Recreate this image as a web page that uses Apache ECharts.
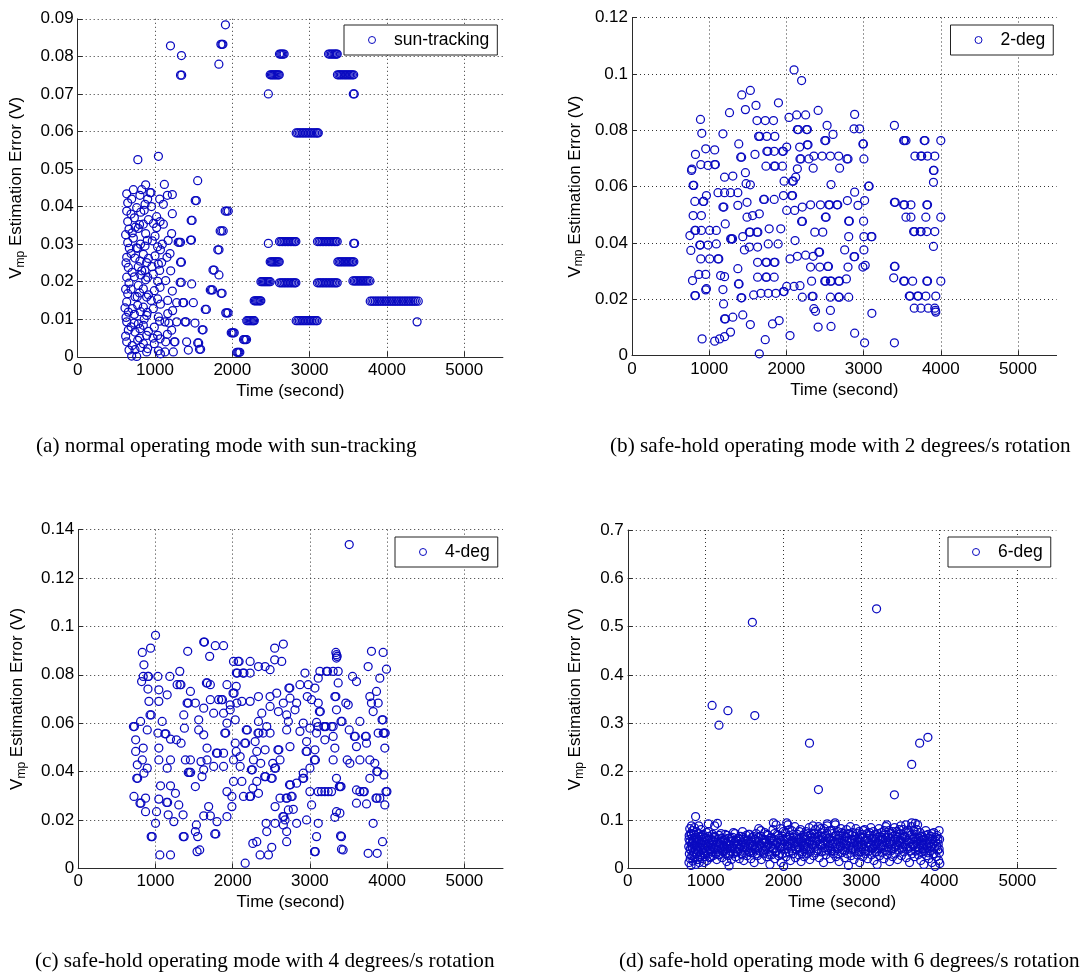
<!DOCTYPE html>
<html>
<head>
<meta charset="utf-8">
<script src="https://cdn.jsdelivr.net/npm/echarts@6/dist/echarts.min.js"></script>
<style>
  html, body { margin: 0; padding: 0; background: #ffffff; }
  #chart { width: 1082px; height: 972px; }
</style>
</head>
<body>
<div id="chart"></div>
<script>
// ---- axis ticks and labels ----
const xTicks = [0, 1000, 2000, 3000, 4000, 5000];
const xMax = 5500;
const yMaxes = [0.09, 0.12, 0.14, 0.7];
const yIntervals = [0.01, 0.02, 0.02, 0.1];
const seriesNames = ['sun-tracking', '2-deg', '4-deg', '6-deg'];
const captions = [
  '(a) normal operating mode with sun-tracking',
  '(b) safe-hold operating mode with 2 degrees/s rotation',
  '(c) safe-hold operating mode with 4 degrees/s rotation',
  '(d) safe-hold operating mode with 6 degrees/s rotation'
];

// ---- (a) normal operating mode, sun-tracking: [time s, error V] ----
const sunTracking = [
  // early scattered samples
  [634,.0434],[647,.0410],[634,.0388],[647,.0360],[664,.0340],[647,.0304],[668,.0289],[634,.0265],[655,.0238],[634,.0212],[664,.0196],[647,.0168],[634,.0146],[655,.0119],[634,.0093],[655,.0071],[634,.0040],[664,.0018],[698,.0002],
  [720,.0445],[763,.0397],[733,.0370],[784,.0342],[720,.0316],[776,.0289],[741,.0263],[784,.0240],[733,.0213],[784,.0190],[741,.0160],[776,.0137],[733,.0113],[784,.0088],[741,.0066],[776,.0044],[741,.0019],[763,.0001],
  [828,.0445],[879,.0458],[935,.0437],[871,.0406],[849,.0353],[879,.0328],[871,.0295],[849,.0273],[892,.0251],[828,.0229],[879,.0205],[849,.0181],[892,.0159],[849,.0132],[892,.0110],[849,.0084],[892,.0057],[849,.0035],[892,.0013],
  [948,.0437],[1021,.0373],[1021,.0344],[1000,.0321],[965,.0309],[1034,.0293],[1000,.0269],[1043,.0247],[978,.0220],[1034,.0201],[991,.0176],[1034,.0154],[978,.0128],[1043,.0106],[991,.0079],[1034,.0057],[991,.0035],[1043,.0016],
  [1121,.0459],[1224,.0432],[1108,.0406],[1224,.0381],[1108,.0353],[1215,.0328],[1095,.0300],[1194,.0275],[1086,.0251],[1203,.0229],[1138,.0203],[1224,.0175],[1164,.0150],[1228,.0123],[1129,.0093],[1215,.0071],[1138,.0040],[1250,.0040],[1129,.0013],
  [698,.0420],[690,.0380],[705,.0330],[690,.0275],[705,.0225],[690,.0180],[705,.0128],[690,.0080],[705,.0030],
  [805,.0430],[815,.0385],[800,.0352],[812,.0300],[805,.0255],[815,.0218],[800,.0170],[812,.0120],[805,.0075],[815,.0025],[800,.0050],
  [905,.0420],[915,.0365],[900,.0310],[915,.0262],[905,.0212],[915,.0165],[900,.0118],[915,.0068],[905,.0022],
  [620,.0325],[625,.0250],[620,.0180],[625,.0105],[620,.0055],[612,.0130],
  [1060,.0420],[1065,.0360],[1070,.0285],[1060,.0230],[1065,.0185],[1070,.0140],[1060,.0095],[1065,.0048],[1070,.0008],
  [1160,.0430],[1170,.0310],[1155,.0265],[1165,.0115],[1180,.0090],[1160,.0060],
  [760,.0290],[745,.0345],[770,.0160],[730,.0090],[860,.0390],[870,.0230],[860,.0100],[955,.0400],[960,.0240],[950,.0150],[975,.0050],[980,.0355],
  [778,.0525],[1044,.0534],
  // 1200-2000 s
  [1200,.0828],[1342,.0802],[1330,.0750],[1345,.0750],[1826,.0779],[1852,.0832],[1866,.0832],[1878,.0832],[1911,.0884],
  [1552,.0469],[1520,.0416],[1535,.0416],[1468,.0363],[1480,.0363],[1460,.0311],[1472,.0311],[1300,.0305],[1315,.0305],[1330,.0305],
  [1474,.0194],[1325,.0198],[1340,.0198],[1330,.0252],[1342,.0252],[1496,.0144],[1360,.0144],[1372,.0144],[1280,.0144],
  [1280,.0093],[1388,.0093],[1400,.0093],[1517,.0090],[1610,.0072],[1622,.0072],[1258,.0040],[1409,.0040],[1552,.0037],[1565,.0037],
  [1431,.0018],[1575,.0020],[1590,.0020],[1237,.0013],
  [1908,.0388],[1928,.0388],[1947,.0388],[1843,.0335],[1862,.0335],[1882,.0335],[1812,.0285],[1828,.0285],
  [1750,.0231],[1765,.0231],[1827,.0218],[1715,.0178],[1730,.0178],[1745,.0178],[1855,.0169],[1868,.0169],
  [1650,.0126],[1665,.0126],[1915,.0117],[1930,.0117],[1945,.0117],
  [1986,.0064],[2000,.0064],[2012,.0064],[2025,.0064],[2145,.0046],[2158,.0046],[2171,.0046],[2184,.0046],
  [2058,.0012],[2071,.0012],[2084,.0012],[2097,.0012],
  [2187,.0096],[2202,.0096],[2217,.0096],[2232,.0096],[2247,.0096],[2262,.0096],[2275,.0096],[2284,.0096],
  [2283,.0149],[2298,.0149],[2313,.0149],[2328,.0149],[2343,.0149],[2358,.0149],[2369,.0149],
  [2370,.0200],[2385,.0200],[2400,.0200],[2415,.0200],[2430,.0200],[2445,.0200],[2460,.0200],[2475,.0200],[2490,.0200],
  [2466,.0302],[2466,.0700],
  // level runs after 2400 s
  [2490,.0253],[2505,.0253],[2520,.0253],[2535,.0253],[2550,.0253],[2565,.0253],[2580,.0253],[2595,.0253],[2607,.0253],
  [2490,.0751],[2505,.0751],[2520,.0751],[2535,.0751],[2550,.0751],[2565,.0751],[2580,.0751],[2595,.0751],[2607,.0751],
  [2610,.0806],[2625,.0806],[2640,.0806],[2655,.0806],[2670,.0806],
  [2610,.0307],[2630,.0307],[2650,.0307],[2670,.0307],[2690,.0307],[2710,.0307],[2730,.0307],[2750,.0307],[2770,.0307],[2790,.0307],[2808,.0307],[2822,.0307],
  [2610,.0197],[2630,.0197],[2650,.0197],[2670,.0197],[2690,.0197],[2710,.0197],[2730,.0197],[2750,.0197],[2770,.0197],[2790,.0197],[2808,.0197],[2822,.0197],
  [2826,.0596],[2845,.0596],[2865,.0596],[2885,.0596],[2905,.0596],[2925,.0596],[2945,.0596],[2965,.0596],[2985,.0596],[3005,.0596],[3025,.0596],[3045,.0596],[3065,.0596],[3085,.0596],[3100,.0596],[3112,.0596],
  [2826,.0096],[2846,.0096],[2866,.0096],[2886,.0096],[2906,.0096],[2926,.0096],[2946,.0096],[2966,.0096],[2986,.0096],[3006,.0096],[3026,.0096],[3046,.0096],[3066,.0096],[3086,.0096],[3098,.0096],
  [3102,.0307],[3122,.0307],[3142,.0307],[3162,.0307],[3182,.0307],[3202,.0307],[3222,.0307],[3242,.0307],[3262,.0307],[3282,.0307],[3302,.0307],[3322,.0307],[3340,.0307],[3357,.0307],
  [3102,.0197],[3122,.0197],[3142,.0197],[3162,.0197],[3182,.0197],[3202,.0197],[3222,.0197],[3242,.0197],[3262,.0197],[3282,.0197],[3302,.0197],[3322,.0197],[3340,.0197],[3357,.0197],
  [3245,.0806],[3262,.0806],[3280,.0806],[3297,.0806],[3315,.0806],[3330,.0806],[3345,.0806],[3357,.0806],
  [3360,.0751],[3378,.0751],[3395,.0751],[3412,.0751],[3430,.0751],[3448,.0751],[3465,.0751],[3483,.0751],[3500,.0751],[3518,.0751],[3535,.0751],[3553,.0751],[3570,.0751],
  [3365,.0253],[3382,.0253],[3400,.0253],[3417,.0253],[3435,.0253],[3452,.0253],[3470,.0253],[3487,.0253],[3505,.0253],[3522,.0253],[3540,.0253],[3557,.0253],[3572,.0253],
  [3565,.0700],[3577,.0700],[3570,.0302],[3582,.0302],
  [3560,.0202],[3578,.0202],[3596,.0202],[3614,.0202],[3632,.0202],[3650,.0202],[3668,.0202],[3686,.0202],[3704,.0202],[3722,.0202],[3740,.0202],[3760,.0202],[3780,.0202],
  [3784,.0148],[3806,.0148],[3828,.0148],[3850,.0148],[3872,.0148],[3894,.0148],[3916,.0148],[3938,.0148],[3960,.0148],[3982,.0148],[4004,.0148],[4026,.0148],[4048,.0148],[4070,.0148],[4092,.0148],
  [4114,.0148],[4136,.0148],[4158,.0148],[4180,.0148],[4202,.0148],[4224,.0148],[4246,.0148],[4268,.0148],[4290,.0148],[4312,.0148],[4334,.0148],[4356,.0148],[4378,.0148],[4405,.0148],
  [4390,.0093]
];

// ---- (b) safe-hold, 2 degrees/s rotation ----
const deg2 = [
  [2099,.1014],[2197,.0976],[1422,.0925],[1533,.0941],[1897,.0897],[1263,.0862],[1469,.0873],[1606,.0888],[2411,.0870],[887,.0838],[904,.0789],[1178,.0787],
  [1619,.0834],[1726,.0834],[1833,.0834],[2034,.0845],[2133,.0854],[2249,.0854],[2527,.0817],[2604,.0785],
  [1640,.0778],[1655,.0778],[1747,.0778],[1850,.0778],[2142,.0802],[2155,.0802],[2261,.0802],[2272,.0802],[2497,.0763],[2510,.0763],
  [955,.0734],[1071,.0730],[822,.0714],[1383,.0751],[1408,.0704],[1420,.0704],[1593,.0714],[1747,.0725],[1760,.0725],[1842,.0725],[1949,.0725],[1960,.0725],[2004,.0740],[2172,.0740],[2270,.0748],[2280,.0748],[2176,.0698],[2188,.0698],[2291,.0698],
  [2356,.0708],[2463,.0708],[2570,.0708],[2677,.0708],[2784,.0698],
  [771,.0657],[776,.0662],[891,.0678],[985,.0675],[1071,.0678],[1080,.0678],[1199,.0633],[1306,.0637],[1469,.0649],[1735,.0672],[1842,.0672],[1855,.0672],[1949,.0672],[2120,.0633],[2142,.0663],[2347,.0665],[2578,.0607],[2689,.0665],
  [792,.0604],[800,.0604],[814,.0547],[921,.0547],[930,.0547],[964,.0568],[1114,.0578],[1199,.0578],[1276,.0578],[1371,.0578],[1478,.0610],[1533,.0606],
  [1178,.0527],[1190,.0527],[1371,.0533],[1490,.0544],[1705,.0554],[1715,.0554],[1842,.0554],[1962,.0568],[2069,.0568],[2080,.0568],[1970,.0619],[2077,.0619],[2090,.0619],
  [2004,.0515],[2107,.0515],[2206,.0527],[2313,.0535],[2441,.0535],[2548,.0535],[2560,.0535],[2655,.0535],[2665,.0535],
  [792,.0497],[899,.0497],[1208,.0467],[1490,.0491],[1563,.0497],[1649,.0503],[1777,.0450],[1927,.0450],[2197,.0476],[2208,.0476],[2368,.0438],[2471,.0438],[2505,.0491],[2515,.0491],
  [750,.0426],[814,.0444],[824,.0444],[899,.0444],[1006,.0444],[1092,.0444],[1278,.0414],[1290,.0414],[1302,.0414],[1435,.0422],[1520,.0438],[1530,.0438],[1619,.0438],[1630,.0438],
  [762,.0373],[878,.0392],[886,.0392],[985,.0392],[1092,.0396],[891,.0343],[1006,.0343],[1114,.0343],[1124,.0343],[1456,.0375],[1520,.0385],[1627,.0385],[1765,.0396],[1893,.0396],[2112,.0408],
  [865,.0288],[955,.0288],[784,.0266],[955,.0233],[1148,.0284],[1199,.0280],[1371,.0308],[1627,.0331],[1735,.0331],[1745,.0331],[1842,.0331],[1852,.0331],
  [2047,.0343],[2142,.0352],[2249,.0356],[2347,.0352],[2420,.0367],[2430,.0367],
  [814,.0213],[822,.0213],[964,.0237],[1178,.0234],[1186,.0183],[1379,.0254],[1387,.0254],[1413,.0205],[1422,.0205],
  [1576,.0215],[1670,.0221],[1765,.0221],[1863,.0221],[1962,.0227],[1970,.0227],
  [1627,.0278],[1735,.0278],[1745,.0278],[1842,.0278],[2004,.0245],[2099,.0245],[2176,.0248],[2206,.0207],[2334,.0210],[2345,.0210],
  [2313,.0314],[2433,.0314],[2536,.0316],[2545,.0316],[2497,.0264],[2508,.0264],[2570,.0264],[2580,.0264],[2677,.0264],[2687,.0264],[2326,.0264],
  [2356,.0166],[2377,.0157],[2570,.0160],[2570,.0207],[2677,.0207],[2686,.0207],[2411,.0101],[2578,.0103],
  [1199,.0130],[1210,.0130],[1306,.0136],[1435,.0144],[1533,.0110],[1820,.0112],[1906,.0124],
  [908,.0059],[1071,.0051],[1135,.0059],[1199,.0067],[1276,.0083],[1726,.0056],[2047,.0071],[1649,.0006],
  [2884,.0856],[2876,.0805],[2948,.0805],[2991,.0751],[2998,.0751],[2798,.0698],[3004,.0698],[2884,.0580],[3064,.0601],[3072,.0601],[2790,.0550],[2927,.0533],[3013,.0550],
  [2807,.0477],[2815,.0477],[3000,.0477],[2807,.0422],[3004,.0422],[3099,.0422],[3107,.0422],[3004,.0375],[2755,.0375],[2876,.0351],[2884,.0351],[2991,.0314],[3021,.0320],[2798,.0314],[2777,.0272],[2807,.0207],[3107,.0150],[2884,.0079],[3013,.0045],
  [3399,.0045],[3399,.0817],[3519,.0763],[3530,.0763],[3549,.0763],[3785,.0763],[3795,.0763],[4000,.0763],
  [3665,.0708],[3742,.0708],[3752,.0708],[3828,.0708],[3922,.0708],[3905,.0657],[3912,.0657],[3905,.0615],
  [3399,.0544],[3410,.0544],[3519,.0535],[3530,.0535],[3613,.0535],[3819,.0535],[3828,.0535],
  [3549,.0491],[3613,.0491],[3806,.0491],[4000,.0491],
  [3648,.0440],[3660,.0440],[3734,.0440],[3745,.0440],[3819,.0440],[3922,.0440],[3905,.0387],
  [3399,.0316],[3407,.0316],[3390,.0276],[3519,.0264],[3530,.0264],[3635,.0264],[3819,.0264],[3828,.0264],[4000,.0264],
  [3592,.0211],[3603,.0211],[3699,.0211],[3710,.0211],[3806,.0211],[3935,.0211],
  [3656,.0168],[3742,.0168],[3837,.0168],[3922,.0168],[3935,.0154],[3930,.0160]
];

// ---- (c) safe-hold, 4 degrees/s rotation ----
const deg4 = [
  [1001,.0963],[937,.0910],[830,.0892],[851,.0841],[842,.0793],[821,.0772],[903,.0793],[910,.0793],[1032,.0793],[1186,.0793],[1315,.0814],[1281,.0759],[1152,.0717],[1044,.0738],[903,.0741],[916,.0690],[1044,.0690],[930,.0634],[945,.0634],[1087,.0607],[808,.0607],[715,.0586],[728,.0586],[894,.0572],[744,.0531],[842,.0497],[744,.0483],[830,.0448],[765,.0428],[894,.0414],[758,.0372],[770,.0372],[851,.0393],[722,.0297],[800,.0269],[812,.0269],[872,.0290],[872,.0234],[1014,.0234],[1001,.0186],[945,.0131],[958,.0131],[1057,.0055],[1195,.0055],
  [1032,.0559],[1122,.0556],[1135,.0556],[1195,.0534],[1044,.0497],[1044,.0448],[1195,.0448],[1152,.0414],[1066,.0341],[1195,.0341],[1259,.0310],[1044,.0286],[1145,.0272],[1158,.0272],[1302,.0262],[1165,.0221],[1238,.0193],[1360,.0131],[1372,.0131],[1358,.0221],[1517,.0152],[1530,.0179],[1547,.0131],[1539,.0069],[1573,.0076],
  [1418,.0897],[1625,.0935],[1635,.0935],[1702,.0876],[1775,.0920],[1882,.0920],[1410,.0683],[1425,.0683],[1517,.0683],[1453,.0731],[1318,.0759],[1330,.0759],[1367,.0634],[1375,.0579],[1272,.0531],[1332,.0517],[1388,.0448],[1425,.0396],[1440,.0396],[1455,.0396],[1603,.0379],[1517,.0338],[1453,.0448],[1590,.0441],[1625,.0407],[1560,.0614],[1560,.0572],[1625,.0552],[1625,.0662],[1711,.0697],[1660,.0766],[1672,.0766],[1711,.0759],[1818,.0697],[1855,.0697],[1868,.0697],[1754,.0641],[1882,.0641],[1668,.0497],[1790,.0476],[1803,.0476],[1882,.0476],[1754,.0421],[1882,.0421],[1668,.0448],
  [1689,.0255],[1711,.0217],[1625,.0217],[1797,.0193],[1926,.0214],[1768,.0142],[1782,.0142],[1990,.0255],[1926,.0317],[1990,.0297],[1898,.0559],[1910,.0559],[1926,.0600],[2033,.0614],[1968,.0655],[1968,.0676],[1926,.0759],[2005,.0724],[2018,.0724],[2046,.0752],[2070,.0855],[2083,.0855],[2011,.0855],[2133,.0807],[2146,.0807],[2048,.0807],[2060,.0807],[2226,.0807],[2226,.0855],[2334,.0834],[2420,.0834],[2484,.0821],[2544,.0862],[2635,.0855],[2656,.0927],[2544,.0910],
  [2054,.0683],[2119,.0690],[2226,.0690],[2334,.0710],[2155,.0517],[2168,.0517],[2033,.0517],[2046,.0483],[2011,.0448],[2097,.0462],[2011,.0359],[2119,.0359],[2097,.0421],[2242,.0407],[2255,.0407],[2176,.0572],[2190,.0572],[2291,.0524],[2328,.0559],[2340,.0559],[2395,.0559],[2441,.0586],[2484,.0559],[2420,.0490],[2312,.0483],[2269,.0448],[2334,.0607],[2377,.0641],[2484,.0710],[2484,.0669],[2570,.0724],[2592,.0648],
  [2220,.0297],[2232,.0297],[2140,.0297],[2261,.0331],[2334,.0310],[2312,.0359],[2363,.0434],[2414,.0379],[2426,.0379],[2500,.0372],[2512,.0372],[2519,.0434],[2543,.0414],[2555,.0414],[2613,.0448],[2586,.0490],[2598,.0490],[2742,.0503],[2699,.0572],[2721,.0607],[2699,.0634],[2807,.0655],[2656,.0683],[2742,.0703],[2828,.0683],[2728,.0745],[2740,.0745],[2871,.0759],[2936,.0807],[2979,.0759],[2966,.0710],[3022,.0697],[3065,.0745],[3108,.0786],[3108,.0683],[3123,.0648],[3135,.0648],[3086,.0603],[3086,.0559],[3000,.0579],[2914,.0600],[2871,.0566],[2957,.0524],[2951,.0483],[2963,.0483],[3065,.0490],[3059,.0448],[3071,.0448],[3000,.0414],[2914,.0393],[2908,.0372],[2920,.0372],[2828,.0352],[2736,.0345],[2748,.0345],
  [2613,.0290],[2693,.0290],[2705,.0290],[2758,.0297],[2770,.0297],[2549,.0255],[2549,.0186],[2650,.0214],[2662,.0214],[2656,.0179],[2699,.0152],[2721,.0241],[2785,.0244],[2678,.0200],[2699,.0110],[2506,.0087],[2463,.0055],[2355,.0055],[2312,.0110],[2261,.0103],[2162,.0021],[2433,.0186],[2441,.0152],[2828,.0186],[2957,.0200],[3022,.0262],[3000,.0317],[3108,.0186],[3086,.0131],[3060,.0069],[3070,.0069],
  [3344,.0883],[3344,.0869],[3366,.0766],[3323,.0710],[3344,.0655],[3301,.0586],[3301,.0545],[3323,.0497],[3301,.0448],[3344,.0372],[3381,.0338],[3393,.0338],[3344,.0234],[3409,.0131],[3430,.0076],
  [3129,.0814],[3215,.0814],[3228,.0814],[3301,.0814],[3366,.0814],[3108,.0586],[3180,.0586],[3194,.0586],[3208,.0586],[3280,.0586],[3107,.0317],[3150,.0317],[3194,.0317],[3237,.0317],[3280,.0317],[3194,.0531],
  [3509,.1338],[3336,.0892],[3353,.0876],[3403,.0607],[3416,.0607],[3336,.0710],[3465,.0683],[3496,.0676],[3552,.0793],[3603,.0772],[3509,.0572],[3576,.0545],[3588,.0545],[3647,.0607],[3718,.0545],[3730,.0545],[3797,.0683],[3819,.0648],[3776,.0710],[3797,.0897],[3948,.0892],[3754,.0834],[3905,.0786],[3991,.0823],[3862,.0731],[3884,.0683],[3934,.0614],[3946,.0614],[3884,.0559],[3950,.0559],[3962,.0559],[3975,.0559],[3970,.0497],[3733,.0517],[3603,.0503],[3483,.0448],[3517,.0434],[3647,.0448],[3776,.0448],[3840,.0434],[3865,.0400],[3877,.0400],[3957,.0386],[3776,.0372],[3603,.0324],[3647,.0317],[3692,.0317],[3704,.0317],[3403,.0338],[3856,.0290],[3868,.0290],[3905,.0290],[3970,.0262],[3985,.0317],[3997,.0317],[3603,.0269],[3733,.0266],[3388,.0228],[3323,.0211],[3819,.0186],[3940,.0110],[3397,.0134],[3409,.0079],[3754,.0062],[3871,.0062]
];

// ---- (d) safe-hold, 6 degrees/s rotation ----
const deg6 = [
  [870,.107],[1082,.337],[1170,.296],[1285,.326],[1599,.509],[1630,.316],[2332,.259],[2447,.163],[3193,.537],[3422,.152],[3644,.215],[3746,.259],[3852,.271],
  [1034,.092],[1869,.094],[2040,.094],[2660,.094],[3645,.094],[3324,.090],[1150,.093],[2560,.092],[3690,.093],
  [782,.045],[785,.012],[788,.068],[790,.030],[795,.082],[798,.055],[802,.020],[805,.038],[808,.072],[812,.006],[815,.050],[818,.088],[822,.026],[825,.062],[828,.042],[832,.078],[835,.015],[840,.058],[843,.034],[848,.070],[852,.048],[855,.084],[860,.022],[863,.064],[868,.040],[872,.008],[876,.054],[880,.076],[885,.030],[888,.060],[893,.046],[897,.018],[900,.072],[905,.036],[910,.088],[915,.056],[918,.012],[922,.044],[928,.066],[932,.028],[936,.052],[940,.080],[945,.038],[950,.060],[955,.020],[960,.048],[965,.070],[970,.032],[975,.056],[980,.012],[985,.042],[990,.064],[995,.024],
  [1000,.050],[1006,.036],[1012,.074],[1018,.016],[1024,.058],[1030,.044],[1036,.030],[1042,.066],[1048,.052],[1055,.022],[1062,.040],[1068,.060],[1075,.034],[1082,.048],[1088,.070],[1095,.026],[1102,.056],[1108,.042],[1115,.088],[1120,.064],[1128,.030],[1135,.050],[1142,.018],[1150,.038],[1158,.060],[1165,.046],[1172,.068],[1180,.028],[1188,.054],[1195,.040],[1202,.062],[1210,.022],[1218,.048],[1225,.034],[1232,.058],[1240,.044],[1248,.070],[1255,.030],[1262,.052],[1270,.014],[1278,.040],[1285,.062],[1293,.026],[1300,.005],[1308,.048],[1315,.036],[1322,.056],[1330,.018],[1338,.044],[1345,.064],[1352,.030],[1360,.052],[1368,.040],[1376,.072],[1384,.024],[1392,.058],[1400,.046],[1408,.034],[1416,.062],[1424,.050],[1432,.020],[1440,.040],[1448,.066],[1456,.030],[1464,.054],[1472,.076],[1480,.044],[1488,.016],[1496,.060],
  [1505,.036],[1513,.050],[1521,.068],[1530,.026],[1538,.046],[1546,.058],[1555,.034],[1563,.070],[1572,.042],[1580,.020],[1588,.054],[1597,.064],[1605,.032],[1614,.048],[1622,.012],[1630,.060],[1639,.038],[1647,.072],[1656,.044],[1664,.026],[1673,.056],[1681,.082],[1690,.036],[1698,.050],[1707,.066],[1715,.018],[1724,.042],[1732,.060],[1741,.030],[1749,.052],[1758,.074],[1766,.038],[1775,.056],[1783,.024],[1792,.046],[1800,.068],[1808,.034],[1816,.058],[1824,.008],[1832,.044],[1840,.064],[1848,.028],[1856,.052],[1864,.080],[1872,.040],[1880,.060],[1888,.020],[1896,.048],[1904,.090],[1912,.036],[1920,.070],[1928,.054],[1936,.026],[1944,.062],[1952,.044],[1960,.082],[1968,.012],[1976,.050],[1984,.030],[1992,.066],
  [2000,.004],[2008,.056],[2016,.040],[2024,.074],[2032,.024],[2040,.060],[2048,.046],[2056,.090],[2064,.034],[2072,.068],[2080,.052],[2088,.016],[2096,.042],[2104,.078],[2112,.058],[2120,.030],[2128,.064],[2136,.046],[2144,.086],[2152,.022],[2160,.054],[2168,.038],[2176,.070],[2184,.050],[2192,.028],[2200,.062],[2208,.042],[2216,.080],[2224,.014],[2232,.056],[2240,.034],[2248,.068],[2256,.048],[2264,.024],[2272,.060],[2280,.040],[2288,.076],[2296,.052],[2304,.030],[2312,.066],[2320,.044],[2328,.084],[2336,.018],[2344,.058],[2352,.036],[2360,.072],[2368,.050],[2376,.088],[2384,.026],[2392,.062],[2400,.044],[2408,.080],[2416,.032],[2424,.056],[2432,.070],[2440,.040],[2448,.086],[2456,.022],[2464,.060],[2472,.048],[2480,.074],[2488,.034],[2496,.064],
  [2504,.052],[2512,.012],[2520,.082],[2528,.042],[2536,.068],[2544,.028],[2552,.056],[2560,.088],[2568,.038],[2576,.062],[2584,.046],[2592,.078],[2600,.020],[2608,.058],[2616,.036],[2624,.072],[2632,.050],[2640,.030],[2648,.066],[2656,.044],[2664,.090],[2672,.024],[2680,.060],[2688,.040],[2696,.076],[2704,.054],[2712,.014],[2720,.068],[2728,.046],[2736,.082],[2744,.032],[2752,.058],[2760,.038],[2768,.072],[2776,.050],[2784,.022],[2792,.064],[2800,.042],[2808,.080],[2816,.030],[2824,.056],[2832,.006],[2840,.070],[2848,.046],[2856,.086],[2864,.026],[2872,.060],[2880,.040],[2888,.074],[2896,.052],[2904,.018],[2912,.066],[2920,.036],[2928,.082],[2936,.048],[2944,.028],[2952,.062],[2960,.044],[2968,.076],[2976,.012],[2984,.056],[2992,.034],
  [3000,.070],[3008,.050],[3016,.024],[3024,.064],[3032,.040],[3040,.080],[3048,.030],[3056,.058],[3064,.046],[3072,.072],[3080,.020],[3088,.054],[3096,.036],[3104,.068],[3112,.048],[3120,.084],[3128,.028],[3136,.062],[3144,.042],[3152,.076],[3160,.016],[3168,.056],[3176,.034],[3184,.070],[3192,.050],[3200,.008],[3208,.064],[3216,.040],[3224,.082],[3232,.026],[3240,.058],[3248,.044],[3256,.074],[3264,.032],[3272,.060],[3280,.048],[3288,.020],[3296,.068],[3304,.038],[3312,.086],[3320,.054],[3328,.028],[3336,.064],[3344,.044],[3352,.078],[3360,.014],[3368,.056],[3376,.036],[3384,.072],[3392,.050],[3400,.024],[3408,.066],[3416,.042],[3424,.084],[3432,.030],[3440,.060],[3448,.048],[3456,.076],[3464,.018],[3472,.056],[3480,.038],[3488,.070],[3496,.052],
  [3504,.088],[3512,.026],[3520,.062],[3528,.044],[3536,.080],[3544,.034],[3552,.066],[3560,.048],[3568,.090],[3576,.022],[3584,.058],[3592,.040],[3600,.074],[3608,.054],[3616,.012],[3624,.068],[3632,.044],[3640,.086],[3648,.030],[3656,.060],[3664,.046],[3672,.078],[3680,.024],[3688,.056],[3696,.036],[3704,.070],[3712,.050],[3720,.090],[3728,.028],[3736,.062],[3744,.042],[3752,.074],[3760,.016],[3768,.054],[3776,.034],[3784,.066],[3792,.048],[3800,.008],[3808,.060],[3816,.040],[3824,.078],[3832,.026],[3840,.056],[3848,.044],[3856,.070],[3864,.020],[3872,.052],[3880,.036],[3888,.066],[3896,.046],[3904,.012],[3912,.060],[3920,.030],[3928,.074],[3936,.042],[3944,.004],[3952,.056],[3960,.024],[3968,.068],[3976,.038],[3984,.050],[3990,.016],[3996,.078],[4000,.032],[4002,.060],[4005,.010],
  [786,.060],[800,.040],[816,.070],[830,.052],[846,.028],[862,.046],[878,.064],[894,.038],[908,.058],[924,.024],[940,.050],[956,.068],[972,.044],[988,.030],[1004,.062],[1020,.046],[1036,.076],[1052,.036],[1068,.024],[1084,.058],[1100,.044],[1116,.066],[1132,.040],[1148,.054],[1164,.028],[1180,.050],[1196,.072],[1212,.036],[1228,.046],[1244,.060],[1260,.040],[1276,.068],[1292,.050],[1308,.030],[1324,.062],[1340,.042],[1356,.074],[1372,.054],[1388,.034],[1404,.056],[1420,.040],[1436,.060],[1452,.048],[1468,.028],[1484,.064],[1500,.044],
  [1516,.058],[1532,.038],[1548,.070],[1564,.050],[1580,.032],[1596,.046],[1612,.066],[1628,.040],[1644,.056],[1660,.030],[1676,.064],[1692,.046],[1708,.078],[1724,.054],[1740,.036],[1756,.060],[1772,.044],[1788,.070],[1804,.050],[1820,.028],[1836,.062],[1852,.040],[1868,.056],[1884,.072],[1900,.034],[1916,.052],[1932,.068],[1948,.030],[1964,.058],[1980,.044],[1996,.076],
  [2012,.050],[2028,.032],[2044,.064],[2060,.046],[2076,.080],[2092,.056],[2108,.036],[2124,.070],[2140,.052],[2156,.040],[2172,.062],[2188,.044],[2204,.076],[2220,.054],[2236,.030],[2252,.064],[2268,.046],[2284,.060],[2300,.038],[2316,.072],[2332,.054],[2348,.040],[2364,.064],[2380,.048],[2396,.072],[2412,.056],[2428,.036],[2444,.066],[2460,.050],[2476,.082],[2492,.046],
  [2508,.064],[2524,.056],[2540,.036],[2556,.072],[2572,.050],[2588,.062],[2604,.040],[2620,.078],[2636,.056],[2652,.036],[2668,.068],[2684,.050],[2700,.030],[2716,.062],[2732,.044],[2748,.074],[2764,.052],[2780,.036],[2796,.066],[2812,.048],[2828,.072],[2844,.058],[2860,.038],[2876,.068],[2892,.046],[2908,.060],[2924,.040],[2940,.072],[2956,.054],[2972,.034],[2988,.064],
  [3004,.044],[3020,.078],[3036,.056],[3052,.036],[3068,.062],[3084,.044],[3100,.074],[3116,.052],[3132,.040],[3148,.066],[3164,.046],[3180,.060],[3196,.034],[3212,.072],[3228,.052],[3244,.040],[3260,.064],[3276,.046],[3292,.078],[3308,.058],[3324,.036],[3340,.068],[3356,.050],[3372,.062],[3388,.040],[3404,.076],[3420,.056],[3436,.044],[3452,.066],[3468,.048],[3484,.080],
  [3500,.058],[3516,.040],[3532,.070],[3548,.052],[3564,.064],[3580,.044],[3596,.078],[3612,.058],[3628,.036],[3644,.070],[3660,.050],[3676,.064],[3692,.044],[3708,.080],[3724,.056],[3740,.038],[3756,.066],[3772,.048],[3788,.058],[3804,.036],[3820,.068],[3836,.050],[3852,.032],[3868,.062],[3884,.044],[3900,.072],[3916,.050],[3932,.030],[3948,.064],[3964,.046],[3980,.060],[3996,.040]
];

// ---- drawing ----
const SANS = "'Liberation Sans', Arial, Helvetica, sans-serif";
const SERIF = "'Liberation Serif', 'Times New Roman', serif";
const MARK = '#0a0ac0';
const AXIS = '#2b2b2b';
const FS = 17;

const seriesData = [sunTracking, deg2, deg4, deg6];

// plot boxes of the four panels, in page pixels
const boxes = [
  { left: 77.7, top: 18.8, width: 425.2, height: 338 },
  { left: 632.0, top: 17.5, width: 424.6, height: 338 },
  { left: 78.2, top: 529.6, width: 424.8, height: 338.7 },
  { left: 627.8, top: 530.0, width: 428.5, height: 338.3 }
];
const yNameGaps = [51, 47, 51, 42];
const legendBoxes = [
  { left: 344, top: 25 },
  { left: 950.5, top: 25 },
  { left: 395, top: 537 },
  { left: 948, top: 537 }
];
const captionPos = [
  { left: 36, top: 436 },
  { left: 610, top: 436 },
  { left: 35, top: 951 },
  { left: 619, top: 951 }
];

const grid = [], xAxis = [], yAxis = [], series = [], legend = [], title = [];

for (let i = 0; i < 4; i++) {
  grid.push(Object.assign({ containLabel: false, outerBoundsMode: 'none' }, boxes[i]));

  xAxis.push({
    gridIndex: i,
    type: 'value',
    min: 0,
    max: xMax,
    interval: 1000,
    name: 'Time (second)',
    nameLocation: 'middle',
    nameGap: 26,
    nameTextStyle: { fontFamily: SANS, fontSize: FS, color: '#000' },
    axisLine: { show: true, onZero: false, lineStyle: { color: AXIS, width: 1 } },
    axisTick: { show: true, inside: true, length: 5, customValues: xTicks, lineStyle: { color: AXIS } },
    axisLabel: {
      show: true, customValues: xTicks, margin: 5,
      fontFamily: SANS, fontSize: FS, color: '#000',
      formatter: (v) => String(v)
    },
    splitLine: { show: true, showMinLine: false, lineStyle: { type: [1, 3], color: '#333', width: 1 } }
  });

  yAxis.push({
    gridIndex: i,
    type: 'value',
    min: 0,
    max: yMaxes[i],
    interval: yIntervals[i],
    name: '{v|V}{s|mp}{v| Estimation Error (V)}',
    nameLocation: 'middle',
    nameGap: yNameGaps[i],
    nameTextStyle: {
      fontFamily: SANS, fontSize: FS, color: '#000',
      rich: {
        v: { fontFamily: SANS, fontSize: FS, color: '#000', lineHeight: 20 },
        s: { fontFamily: SANS, fontSize: 12, color: '#000', lineHeight: 10, verticalAlign: 'bottom' }
      }
    },
    axisLine: { show: true, onZero: false, lineStyle: { color: AXIS, width: 1 } },
    axisTick: { show: true, inside: true, length: 5, lineStyle: { color: AXIS } },
    axisLabel: { show: true, margin: 4, fontFamily: SANS, fontSize: FS, color: '#000' },
    splitLine: { show: true, showMinLine: false, lineStyle: { type: [1, 3], color: '#333', width: 1 } }
  });

  series.push({
    type: 'scatter',
    name: seriesNames[i],
    xAxisIndex: i,
    yAxisIndex: i,
    data: seriesData[i],
    symbol: 'circle',
    symbolSize: 8,
    itemStyle: { color: 'rgba(0,0,0,0)', borderColor: MARK, borderWidth: 1.25, opacity: 1 },
    emphasis: { disabled: true },
    silent: true,
    animation: false
  });

  legend.push({
    data: [{ name: seriesNames[i], icon: 'circle' }],
    left: legendBoxes[i].left,
    top: legendBoxes[i].top,
    orient: 'horizontal',
    padding: [6, 8, 6, 24],
    itemWidth: 34,
    itemHeight: 7,
    itemGap: 0,
    borderColor: '#222',
    borderWidth: 1,
    borderRadius: 0,
    backgroundColor: '#ffffff',
    selectedMode: false,
    itemStyle: { color: 'rgba(0,0,0,0)', borderColor: MARK, borderWidth: 1 },
    textStyle: { fontFamily: SANS, fontSize: 17.5, color: '#000' }
  });

  title.push({
    text: captions[i],
    left: captionPos[i].left,
    top: captionPos[i].top,
    padding: 0,
    textStyle: { fontFamily: SERIF, fontSize: 21.2, fontWeight: 'normal', color: '#000' }
  });
}

const chart = echarts.init(document.getElementById('chart'), null, { renderer: 'canvas' });
chart.setOption({
  backgroundColor: '#ffffff',
  animation: false,
  title, grid, xAxis, yAxis, series, legend
});
</script>
</body>
</html>
